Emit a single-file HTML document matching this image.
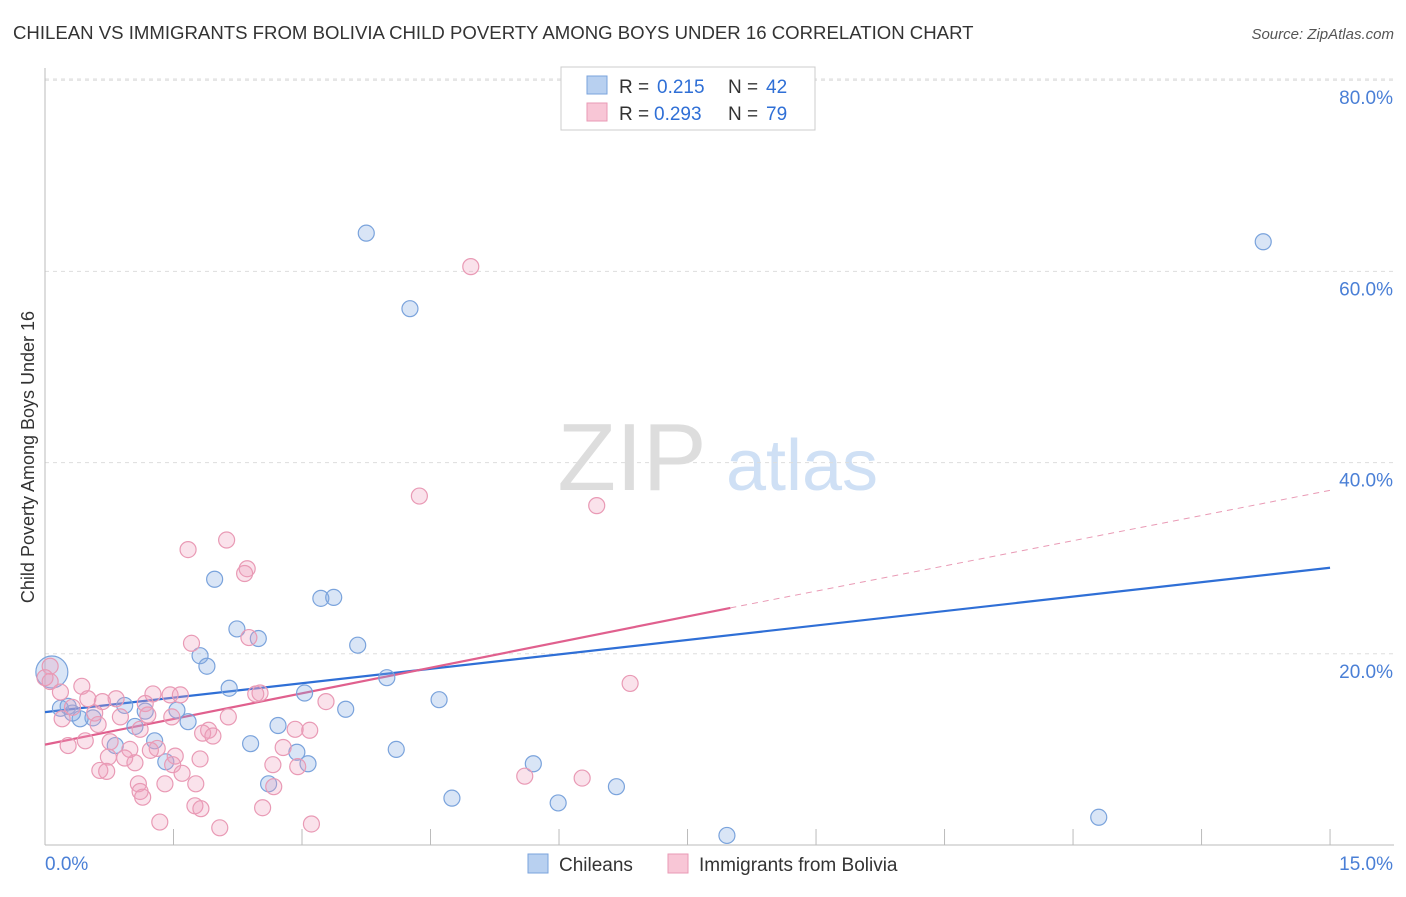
<!DOCTYPE html>
<html><head><meta charset="utf-8"><style>
body{margin:0;background:#fff;font-family:"Liberation Sans",sans-serif}
svg text{font-family:"Liberation Sans",sans-serif}
</style></head><body>
<svg id="chart" width="1406" height="892" xmlns="http://www.w3.org/2000/svg">
<text x="13" y="39" font-size="18.6" fill="#333">CHILEAN VS IMMIGRANTS FROM BOLIVIA CHILD POVERTY AMONG BOYS UNDER 16 CORRELATION CHART</text>
<text x="1394" y="39" font-size="15" fill="#555" font-style="italic" text-anchor="end">Source: ZipAtlas.com</text>
<text x="34" y="457" font-size="18" fill="#333" text-anchor="middle" transform="rotate(-90 34 457)">Child Poverty Among Boys Under 16</text>
<g><text x="632" y="490" font-size="96" fill="#ddd" font-family="Liberation Serif" text-anchor="middle">ZIP</text><text x="802" y="490" font-size="72" fill="#cfe0f5" text-anchor="middle">atlas</text></g>
<g id="grid"></g><g id="axes"></g><g id="lines"></g><g id="pts"></g>
<g>
<rect x="561" y="67" width="254" height="63" fill="#fff" stroke="#ccc"/>
<rect x="587" y="76" width="20" height="18" fill="#b8d0f0" stroke="#7aa3dc"/>
<rect x="587" y="103" width="20" height="18" fill="#f8c6d6" stroke="#e99ab5"/>
<text x="619" y="93" font-size="19" fill="#333">R =</text><text x="657" y="93" font-size="19" fill="#2f6fd6">0.215</text>
<text x="728" y="93" font-size="19" fill="#333">N =</text><text x="766" y="93" font-size="19" fill="#2f6fd6">42</text>
<text x="619" y="120" font-size="19" fill="#333">R =</text><text x="654" y="120" font-size="19" fill="#2f6fd6">0.293</text>
<text x="728" y="120" font-size="19" fill="#333">N =</text><text x="766" y="120" font-size="19" fill="#2f6fd6">79</text>
</g>
<g>
<rect x="528" y="854" width="20" height="19" fill="#b8d0f0" stroke="#7aa3dc"/>
<text x="559" y="871" font-size="19" fill="#333">Chileans</text>
<rect x="668" y="854" width="20" height="19" fill="#f8c6d6" stroke="#e99ab5"/>
<text x="699" y="871" font-size="19" fill="#333">Immigrants from Bolivia</text>
</g>
</svg>
<script>
const yTicks=[20,40,60,80];
const yTickLabels=["20.0%","40.0%","60.0%","80.0%"];
const xTickLabels=["0.0%","15.0%"];
const chileX=[3.75,4.26,14.22,1.98,3.22,3.37,2.24,2.49,3.65,1.81,1.89,3.99,2.15,3.03,4.6,3.51,0.93,1.17,1.54,0.18,0.32,0.56,0.41,1.67,1.05,2.72,1.28,0.82,2.4,2.94,4.1,1.41,3.07,5.7,2.61,6.67,4.75,5.99,12.3,7.96,0.08,0.27];
const chileY=[64,56.1,63.1,27.8,25.8,25.9,22.6,21.6,20.9,19.8,18.7,17.5,16.4,15.9,15.2,14.2,14.6,14,14.1,14.3,13.8,13.3,13.2,12.9,12.4,12.5,10.9,10.4,10.6,9.7,10,8.7,8.5,8.5,6.4,6.1,4.9,4.4,2.9,1,18.1,14.5];
const bolX=[4.97,4.37,6.44,1.67,2.12,2.36,2.33,1.71,2.38,6.83,0.06,0.06,0.18,0.43,0.5,0.83,1.26,1.46,1.58,0.67,1.17,2.51,2.46,3.28,0.32,0.58,0.88,1.48,0.2,0.62,1.11,1.91,1.84,1.96,2.92,3.09,2.14,1.2,0.47,0.27,0.76,0.99,1.31,2.78,1.52,1.81,0.74,0.93,1.05,1.23,1.49,2.66,2.95,0.64,0.72,1.6,1.09,1.4,1.76,2.67,5.6,6.27,1.11,1.14,1.75,1.82,2.54,1.34,2.04,3.11,0];
const bolY=[60.5,36.5,35.5,30.9,31.9,28.9,28.4,21.1,21.7,16.9,18.7,17.1,16,16.6,15.3,15.3,15.8,15.7,15.7,15,14.8,15.9,15.8,15,14.4,13.8,13.4,13.4,13.2,12.6,12.1,12,11.7,11.4,12.1,12,13.4,13.6,10.9,10.4,10.8,10,10.1,10.2,9.3,9,9.2,9.1,8.6,9.9,8.4,8.4,8.2,7.8,7.7,7.5,6.4,6.4,6.4,6.1,7.2,7,5.6,5,4.1,3.8,3.9,2.4,1.8,2.2,17.5];
const X=v=>45+v*85.67, Y=v=>845-v*9.56;
const NS="http://www.w3.org/2000/svg";
function mk(p,t,a){const e=document.createElementNS(NS,t);for(const k in a)e.setAttribute(k,a[k]);document.getElementById(p).appendChild(e);return e;}
yTicks.forEach((t,i)=>{
 const g=mk('grid','line',{x1:45,x2:1394,y1:Y(t),y2:Y(t),stroke:'#ddd','stroke-dasharray':'4,4'});
 
 
 const l=mk('axes','text',{x:1393,y:Y(t)+24,'font-size':19,fill:'#4a7fd6','text-anchor':'end'});l.textContent=yTickLabels[i];
 
 
});
const topLine=mk('grid','line',{x1:45,x2:1394,y1:79,y2:79,stroke:'#ddd','stroke-dasharray':'4,4'});


const ax=mk('axes','line',{x1:45,x2:1394,y1:845,y2:845,stroke:'#bbb'});


const ay=mk('axes','line',{x1:45,x2:45,y1:68,y2:845,stroke:'#bbb'});


for(let i=1;i<=10;i++){const t=mk('axes','line',{x1:X(i*1.5),x2:X(i*1.5),y1:829,y2:845,stroke:'#bbb'});
 
 }
const xl0=mk('axes','text',{x:45,y:870,'font-size':19,fill:'#4a7fd6'});xl0.textContent=xTickLabels[0];


const xl1=mk('axes','text',{x:1393,y:870,'font-size':19,fill:'#4a7fd6','text-anchor':'end'});xl1.textContent=xTickLabels[1];


chileX.forEach((x,i)=>{const big=(i==40);const c=mk('pts','circle',{cx:X(x),cy:Y(chileY[i]),r:big?16:8,fill:'rgba(130,170,225,0.3)',stroke:'#7aa3dc','stroke-width':1.2});
 
 });
bolX.forEach((x,i)=>{const c=mk('pts','circle',{cx:X(x),cy:Y(bolY[i]),r:8,fill:'rgba(240,160,190,0.3)',stroke:'#e99ab5','stroke-width':1.2});
 
 });
const bl=mk('lines','line',{x1:X(0),y1:Y(13.9),x2:X(15),y2:Y(29.0),stroke:'#2f6fd6','stroke-width':2.2});


const pl=mk('lines','line',{x1:X(0),y1:Y(10.5),x2:X(8),y2:Y(24.8),stroke:'#e0608e','stroke-width':2.2});


const pd=mk('lines','line',{x1:X(8),y1:Y(24.8),x2:X(15),y2:Y(37.1),stroke:'#e99ab5','stroke-width':1,'stroke-dasharray':'6,5'});


</script>
</body></html>
